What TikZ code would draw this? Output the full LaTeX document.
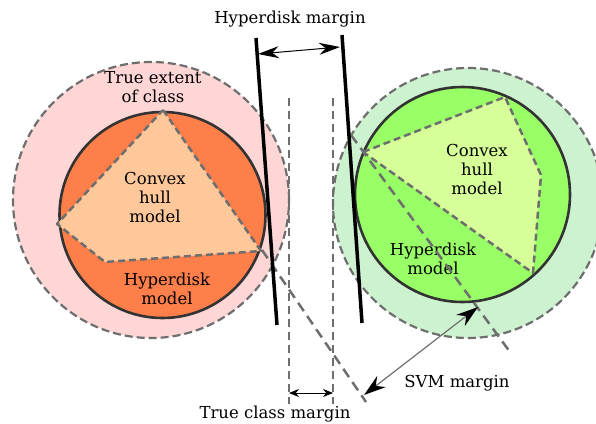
\documentclass[tikz,border=0pt]{standalone}
\usepackage{fontspec}
\setmainfont{DejaVu Serif}
\usetikzlibrary{arrows.meta}
\definecolor{pinkout}{HTML}{FFD6D6}
\definecolor{orangein}{HTML}{FF7F4A}
\definecolor{peach}{HTML}{FFC89A}
\definecolor{greenout}{HTML}{CDF2D0}
\definecolor{greenin}{HTML}{99FF66}
\definecolor{lime}{HTML}{D6FF99}
\definecolor{dgray}{HTML}{6E6E6E}
\begin{document}
\begin{tikzpicture}[x=1pt,y=-1pt,
  lbl/.style={inner sep=0pt,align=center,font=\fontsize{16.5}{19}\selectfont},
  outerc/.style={draw=dgray,line width=2.2pt,dash pattern=on 8pt off 4pt},
  innerc/.style={draw=black!80,line width=2.6pt},
  hull/.style={draw=dgray,line width=2.5pt,dash pattern=on 7pt off 4pt,line join=round},
  svmline/.style={draw=dgray,line width=2.5pt,dash pattern=on 10pt off 6pt},
  truel/.style={draw=dgray,line width=2.5pt,dash pattern=on 8pt off 5pt},
  hdline/.style={draw=black,line width=3.5pt},
  bigtip/.style={{Stealth[length=21pt,width=12pt]}-{Stealth[length=21pt,width=12pt]}},
  svmtip/.style={{Stealth[length=22pt,width=14pt,color=black,fill=black]}-{Stealth[length=22pt,width=14pt,color=black,fill=black]}},
]
\useasboundingbox (0,0) rectangle (596,423);
% left class
\fill[pinkout] (151,200) circle (138pt);
\draw[outerc] (151,200) circle (138pt);
\fill[orangein] (162.5,215) circle (103pt);
\draw[innerc] (162.5,215) circle (103pt);
\coordinate (LT) at (163,110);
\coordinate (LR) at (261,251);
\coordinate (LB) at (105,262);
\coordinate (LL) at (57,224);
\filldraw[hull,fill=peach] (LT) -- (LR) -- (LB) -- (LL) -- cycle;
\node[lbl] (ext) at (153,87) {True extent\\of class};
\node[lbl] (chl) at (155,197) {Convex\\hull\\model};
\node[lbl] (hdl) at (167,289) {Hyperdisk\\model};
% right class
\fill[greenout] (468,203) circle (135pt);
\draw[outerc] (468,203) circle (135pt);
\fill[greenin] (462.5,194.5) circle (107.5pt);
\draw[innerc] (462.5,194.5) circle (107.5pt);
\coordinate (RL) at (363,152);
\coordinate (RT) at (505,97);
\coordinate (RR) at (541,175);
\coordinate (RB) at (533,273);
\filldraw[hull,fill=lime] (RL) -- (RT) -- (RR) -- (RB) -- cycle;
\node[lbl] (chr) at (477,169) {Convex\\hull\\model};
\node[lbl] (hdr) at (433,259) {Hyperdisk\\model};
% true class margin
\coordinate (T1a) at (289,98);
\coordinate (T1b) at (289,404);
\coordinate (T2a) at (333,98);
\coordinate (T2b) at (333,404);
\draw[truel] (T1a) -- (T1b);
\draw[truel] (T2a) -- (T2b);
\coordinate (TA) at (289,393);
\coordinate (TB) at (333,393);
\draw[{Stealth[length=10pt,width=8pt]}-{Stealth[length=10pt,width=8pt]},line width=0.9pt] (TA) -- (TB);
\node[lbl,anchor=base] (tcm) at (275,418) {True class margin};
% SVM lines
\coordinate (S1a) at (262,250);
\coordinate (S1b) at (366,402);
\coordinate (S2a) at (351,135);
\coordinate (S2b) at (510,352);
\draw[svmline] (S1a) -- (S1b);
\draw[svmline] (S2a) -- (S2b);
% hyperdisk margin lines
\coordinate (H1a) at (256,38);
\coordinate (H1b) at (277,325);
\coordinate (H2a) at (342,35);
\coordinate (H2b) at (362,323);
\draw[hdline] (H1a) -- (H1b);
\draw[hdline] (H2a) -- (H2b);
\coordinate (HA) at (258,54);
\coordinate (HB) at (340,47);
\draw[bigtip,line width=1pt] (HA) -- (HB);
\node[lbl] (hdm) at (290,19) {Hyperdisk margin};
% SVM margin
\coordinate (VA) at (364,395);
\coordinate (VB) at (478,307);
\draw[draw=dgray,line width=1.2pt,svmtip] (VA) -- (VB);
\node[lbl] (svm) at (457,383) {SVM margin};
\end{tikzpicture}
\end{document}
